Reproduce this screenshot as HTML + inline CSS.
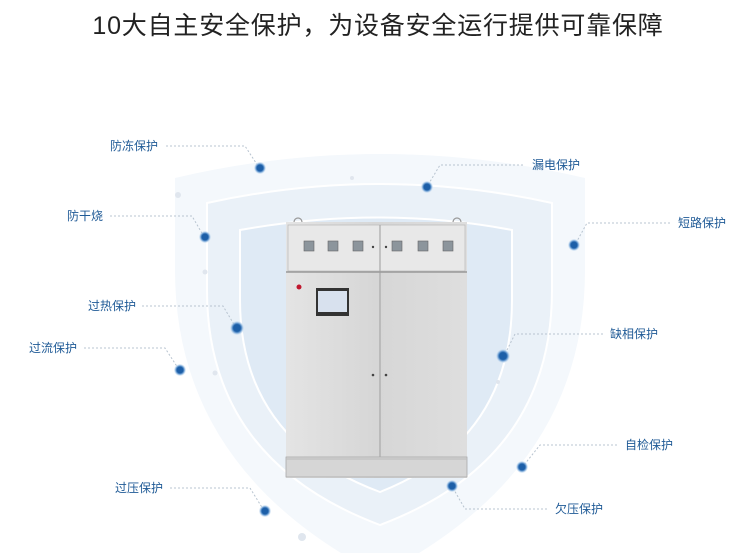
<!DOCTYPE html>
<html><head><meta charset="utf-8"><style>
html,body{margin:0;padding:0;background:#fff;}
body{width:750px;height:553px;overflow:hidden;position:relative;font-family:"Liberation Sans","Noto Sans CJK SC",sans-serif;}
.t{position:absolute;left:0;top:6px;width:756px;text-align:center;font-size:25px;color:#222;letter-spacing:0.8px;}
.l{position:absolute;font-size:12px;color:#1f5a96;white-space:nowrap;line-height:14px;}
</style></head><body>
<svg width="750" height="553" style="position:absolute;left:0;top:0">
<defs>
<linearGradient id="cab" x1="0" x2="1"><stop offset="0" stop-color="#e4e4e4"/><stop offset="0.5" stop-color="#d6d6d6"/><stop offset="1" stop-color="#dedede"/></linearGradient>
<radialGradient id="dg"><stop offset="0.5" stop-color="#1d5fa8"/><stop offset="0.7" stop-color="#6d9fd3"/><stop offset="1" stop-color="#d5e6f6" stop-opacity="0.3"/></radialGradient>
</defs>
<path d="M175,178 Q380,130 585,178 L585,270 Q585,470 380,575 Q175,470 175,270 Z" fill="#f4f8fc"/>
<path d="M207,203 Q380,165 552,203 L552,290 Q552,460 380,525 Q207,460 207,290 Z" fill="#eaf1f8" stroke="#fff" stroke-width="2"/>
<path d="M240,230 Q380,205 512,230 L512,300 Q512,440 380,492 Q240,440 240,300 Z" fill="#dfeaf5" stroke="#fff" stroke-width="2"/>
<g fill="#e0e6ee"><circle cx="178" cy="195" r="3"/><circle cx="205" cy="272" r="2.5"/><circle cx="215" cy="373" r="2.5"/><circle cx="302" cy="537" r="4"/><circle cx="352" cy="178" r="2"/><circle cx="498" cy="382" r="2"/></g>
<rect x="286" y="222" width="181" height="256" fill="url(#cab)"/>
<path d="M294,222 a4,4 0 0 1 8,0 M453,222 a4,4 0 0 1 8,0" fill="none" stroke="#999" stroke-width="1.2"/>
<rect x="288" y="225" width="177" height="46" fill="#e8e8e8" stroke="#bdbdbd" stroke-width="0.8"/>
<line x1="380" y1="225" x2="380" y2="457" stroke="#a8a8a8" stroke-width="1.2"/>
<line x1="286" y1="272" x2="467" y2="272" stroke="#999" stroke-width="1.5"/>
<g fill="#8c959c" stroke="#666" stroke-width="0.6">
<rect x="304" y="241" width="10" height="10"/><rect x="328" y="241" width="10" height="10"/><rect x="353" y="241" width="10" height="10"/>
<rect x="392" y="241" width="10" height="10"/><rect x="418" y="241" width="10" height="10"/><rect x="443" y="241" width="10" height="10"/></g>
<g fill="#444"><circle cx="373" cy="247" r="1.2"/><circle cx="386" cy="247" r="1.2"/><circle cx="373" cy="375" r="1.3"/><circle cx="386" cy="375" r="1.3"/></g>
<circle cx="299" cy="287" r="2.5" fill="#c0172e"/>
<rect x="316" y="288" width="33" height="28" fill="#333"/>
<rect x="318" y="291" width="29" height="21" fill="#d8e1ee"/>
<rect x="286" y="457" width="181" height="20" fill="#d6d6d6" stroke="#aaa" stroke-width="0.8"/>
<line x1="286" y1="459" x2="467" y2="459" stroke="#bbb"/>
<g fill="none" stroke="#b8c4d0" stroke-width="1" stroke-dasharray="2,2">
<path d="M166,146 L245,146 L258,166"/>
<path d="M110,216 L192,216 L203,235"/>
<path d="M142,306 L223,306 L235,326"/>
<path d="M84,348 L165,348 L178,368"/>
<path d="M170,488 L250,488 L263,509"/>
<path d="M523,165 L440,165 L428,185"/>
<path d="M670,223 L587,223 L576,243"/>
<path d="M603,334 L515,334 L505,354"/>
<path d="M617,445 L540,445 L524,465"/>
<path d="M547,509 L465,509 L453,488"/>
</g>
<g fill="url(#dg)">
<circle cx="260" cy="168" r="6"/><circle cx="205" cy="237" r="6"/><circle cx="237" cy="328" r="7"/><circle cx="180" cy="370" r="6"/><circle cx="265" cy="511" r="6"/>
<circle cx="427" cy="187" r="6"/><circle cx="574" cy="245" r="6"/><circle cx="503" cy="356" r="7"/><circle cx="522" cy="467" r="6"/><circle cx="452" cy="486" r="6"/>
</g>
</svg>
<div class="t">10大自主安全保护，为设备安全运行提供可靠保障</div>
<div class="l" style="left:110px;top:139px">防冻保护</div>
<div class="l" style="left:67px;top:209px">防干烧</div>
<div class="l" style="left:88px;top:299px">过热保护</div>
<div class="l" style="left:29px;top:341px">过流保护</div>
<div class="l" style="left:115px;top:481px">过压保护</div>
<div class="l" style="left:532px;top:158px">漏电保护</div>
<div class="l" style="left:678px;top:216px">短路保护</div>
<div class="l" style="left:610px;top:327px">缺相保护</div>
<div class="l" style="left:625px;top:438px">自检保护</div>
<div class="l" style="left:555px;top:502px">欠压保护</div>
</body></html>
